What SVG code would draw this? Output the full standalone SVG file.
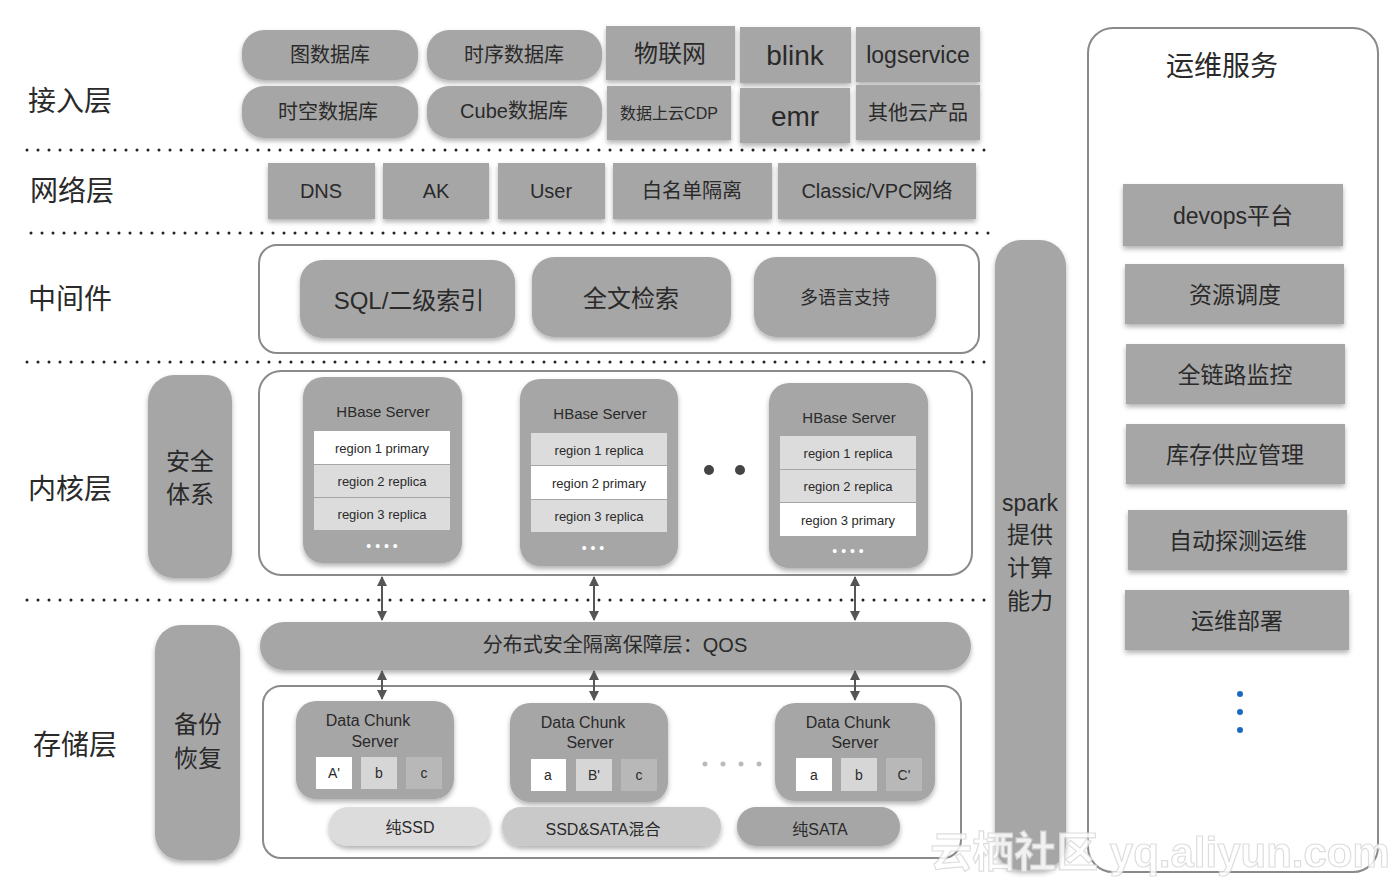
<svg xmlns="http://www.w3.org/2000/svg" width="1400" height="882" viewBox="0 0 1400 882">
<style>
text{font-family:"Liberation Sans","Noto Sans CJK SC",sans-serif;fill:#2a2a2a;text-anchor:middle;dominant-baseline:central}
.g{fill:#a6a6a6}
.sh{filter:url(#ds)}
.lbl{font-size:28px;text-anchor:start}
.dot{stroke:#222;stroke-width:3;stroke-linecap:round;stroke-dasharray:0 11;fill:none}
.frame{fill:#fff;stroke:#8a8a8a;stroke-width:2}
.reg{font-size:13px}
.conn{stroke:#555;stroke-width:2;fill:none;marker-start:url(#ah);marker-end:url(#ah)}
</style>
<defs>
<filter id="ds" x="-20%" y="-20%" width="140%" height="150%">
<feDropShadow dx="0" dy="3" stdDeviation="2.5" flood-color="#000" flood-opacity="0.3"/>
</filter>
<marker id="ah" viewBox="0 0 10 10" refX="9" refY="5" markerWidth="5" markerHeight="5" orient="auto-start-reverse">
<path d="M0,0 L10,5 L0,10 z" fill="#555"/>
</marker>
</defs>
<rect width="1400" height="882" fill="#fff"/>

<g id="layer-labels">
<text class="lbl" x="28" y="101">接入层</text>
<text class="lbl" x="30" y="191">网络层</text>
<text class="lbl" x="28" y="299">中间件</text>
<text class="lbl" x="28" y="489">内核层</text>
<text class="lbl" x="33" y="745">存储层</text>
</g>

<g id="dividers">
<line class="dot" x1="27" y1="150" x2="990" y2="150"/>
<line class="dot" x1="31" y1="233" x2="995" y2="233"/>
<line class="dot" x1="27" y1="362" x2="990" y2="362"/>
<line class="dot" x1="27" y1="600" x2="990" y2="600"/>
</g>

<g id="access-layer">
<g id="n-tushuju"><rect class="g sh" x="242" y="30" width="176" height="50" rx="22"/><text x="330" y="55" font-size="20">图数据库</text></g>
<g id="n-shixu"><rect class="g sh" x="427" y="30" width="175" height="50" rx="22"/><text x="514" y="55" font-size="20">时序数据库</text></g>
<g id="n-wulian"><rect class="g sh" x="606" y="26" width="129" height="54"/><text x="670" y="53" font-size="24">物联网</text></g>
<g id="n-blink"><rect class="g sh" x="740" y="27" width="111" height="56"/><text x="795" y="55" font-size="28">blink</text></g>
<g id="n-logservice"><rect class="g sh" x="856" y="27" width="124" height="55"/><text x="918" y="55" font-size="23">logservice</text></g>
<g id="n-shikong"><rect class="g sh" x="242" y="86" width="176" height="52" rx="22"/><text x="328" y="112" font-size="20">时空数据库</text></g>
<g id="n-cube"><rect class="g sh" x="427" y="86" width="175" height="52" rx="22"/><text x="514" y="111" font-size="20">Cube数据库</text></g>
<g id="n-cdp"><rect class="g sh" x="607" y="86" width="124" height="54"/><text x="669" y="113" font-size="16">数据上云CDP</text></g>
<g id="n-emr"><rect class="g sh" x="740" y="88" width="110" height="55"/><text x="795" y="116" font-size="28">emr</text></g>
<g id="n-other"><rect class="g sh" x="856" y="85" width="124" height="55"/><text x="918" y="113" font-size="20">其他云产品</text></g>
</g>

<g id="network-layer">
<g id="n-dns"><rect class="g sh" x="268" y="163" width="107" height="56"/><text x="321" y="191" font-size="20">DNS</text></g>
<g id="n-ak"><rect class="g sh" x="383" y="163" width="106" height="56"/><text x="436" y="191" font-size="20">AK</text></g>
<g id="n-user"><rect class="g sh" x="498" y="163" width="107" height="56"/><text x="551" y="191" font-size="20">User</text></g>
<g id="n-whitelist"><rect class="g sh" x="613" y="163" width="159" height="56"/><text x="692" y="191" font-size="20">白名单隔离</text></g>
<g id="n-vpc"><rect class="g sh" x="778" y="163" width="198" height="56"/><text x="877" y="191" font-size="20">Classic/VPC网络</text></g>
</g>

<g id="middleware">
<rect class="frame" x="259" y="245" width="720" height="108" rx="18"/>
<g id="n-sql"><rect class="g sh" x="300" y="260" width="215" height="78" rx="22"/><text x="409" y="300" font-size="24">SQL/二级索引</text></g>
<g id="n-fulltext"><rect class="g sh" x="532" y="257" width="199" height="80" rx="22"/><text x="631" y="298" font-size="24">全文检索</text></g>
<g id="n-multilang"><rect class="g sh" x="754" y="257" width="182" height="80" rx="22"/><text x="845" y="298" font-size="18">多语言支持</text></g>
</g>

<g id="n-security"><rect class="g sh" x="148" y="375" width="84" height="203" rx="26"/><text x="190" y="461" font-size="24">安全</text><text x="190" y="494" font-size="24">体系</text></g>

<g id="kernel">
<rect class="frame" x="259" y="371" width="713" height="204" rx="22"/>
<g id="n-hbase1">
<rect class="g sh" x="303" y="377" width="159" height="186" rx="20"/>
<text x="383" y="411" font-size="15">HBase Server</text>
<rect x="314" y="431" width="136" height="33" fill="#fff"/>
<rect x="314" y="465" width="136" height="32" fill="#dcdcdc"/>
<rect x="314" y="498" width="136" height="32" fill="#dcdcdc"/>
<text class="reg" x="382" y="448">region 1 primary</text>
<text class="reg" x="382" y="481">region 2 replica</text>
<text class="reg" x="382" y="514">region 3 replica</text>
<text x="382" y="546" font-size="14" fill="#fff" style="fill:#fff">• • • •</text>
</g>
<g id="n-hbase2">
<rect class="g sh" x="520" y="379" width="158" height="187" rx="20"/>
<text x="600" y="413" font-size="15">HBase Server</text>
<rect x="531" y="433" width="136" height="32" fill="#dcdcdc"/>
<rect x="531" y="466" width="136" height="33" fill="#fff"/>
<rect x="531" y="500" width="136" height="32" fill="#dcdcdc"/>
<text class="reg" x="599" y="450">region 1 replica</text>
<text class="reg" x="599" y="483">region 2 primary</text>
<text class="reg" x="599" y="516">region 3 replica</text>
<text x="593" y="548" font-size="14" style="fill:#fff">• • •</text>
</g>
<g id="n-hbase3">
<rect class="g sh" x="769" y="383" width="159" height="185" rx="20"/>
<text x="849" y="417" font-size="15">HBase Server</text>
<rect x="780" y="436" width="136" height="33" fill="#dcdcdc"/>
<rect x="780" y="470" width="136" height="32" fill="#dcdcdc"/>
<rect x="780" y="503" width="136" height="33" fill="#fff"/>
<text class="reg" x="848" y="453">region 1 replica</text>
<text class="reg" x="848" y="486">region 2 replica</text>
<text class="reg" x="848" y="520">region 3 primary</text>
<text x="848" y="551" font-size="14" style="fill:#fff">• • • •</text>
</g>
<circle cx="709" cy="470" r="5" fill="#444"/>
<circle cx="740" cy="470" r="5" fill="#444"/>
</g>

<g id="n-qos"><rect class="g sh" x="260" y="622" width="711" height="48" rx="24"/><text x="615" y="645" font-size="20">分布式安全隔离保障层：QOS</text></g>

<g id="n-backup"><rect class="g sh" x="155" y="625" width="85" height="235" rx="26"/><text x="198" y="724" font-size="24">备份</text><text x="198" y="758" font-size="24">恢复</text></g>

<g id="storage">
<rect class="frame" x="263" y="686" width="698" height="172" rx="18"/>
<g id="n-dcs1">
<rect class="g sh" x="296" y="701" width="158" height="98" rx="20"/>
<text x="368" y="720" font-size="16">Data Chunk</text>
<text x="375" y="741" font-size="16">Server</text>
<rect x="316" y="757" width="36" height="32" fill="#fff"/><text x="334" y="773" font-size="14">A'</text>
<rect x="361" y="757" width="36" height="32" fill="#d6d6d6"/><text x="379" y="773" font-size="14">b</text>
<rect x="406" y="757" width="36" height="32" fill="#b8b8b8"/><text x="424" y="773" font-size="14">c</text>
</g>
<g id="n-dcs2">
<rect class="g sh" x="510" y="703" width="158" height="99" rx="20"/>
<text x="583" y="722" font-size="16">Data Chunk</text>
<text x="590" y="742" font-size="16">Server</text>
<rect x="531" y="759" width="35" height="32" fill="#fff"/><text x="548" y="775" font-size="14">a</text>
<rect x="576" y="759" width="36" height="32" fill="#d6d6d6"/><text x="594" y="775" font-size="14">B'</text>
<rect x="621" y="759" width="36" height="32" fill="#b8b8b8"/><text x="639" y="775" font-size="14">c</text>
</g>
<g id="n-dcs3">
<rect class="g sh" x="775" y="703" width="160" height="98" rx="20"/>
<text x="848" y="722" font-size="16">Data Chunk</text>
<text x="855" y="742" font-size="16">Server</text>
<rect x="796" y="758" width="36" height="33" fill="#fff"/><text x="814" y="775" font-size="14">a</text>
<rect x="841" y="758" width="36" height="33" fill="#d6d6d6"/><text x="859" y="775" font-size="14">b</text>
<rect x="886" y="758" width="36" height="33" fill="#b8b8b8"/><text x="904" y="775" font-size="14">C'</text>
</g>
<circle cx="705" cy="764" r="2.5" fill="#bbb"/><circle cx="723" cy="764" r="2.5" fill="#bbb"/><circle cx="741" cy="764" r="2.5" fill="#bbb"/><circle cx="759" cy="764" r="2.5" fill="#bbb"/>
<g id="n-ssd"><rect class="sh" x="329" y="807" width="161" height="39" rx="19" fill="#dcdcdc"/><text x="410" y="827" font-size="16">纯SSD</text></g>
<g id="n-mix"><rect class="sh" x="502" y="807" width="219" height="39" rx="19" fill="#c9c9c9"/><text x="603" y="829" font-size="16">SSD&amp;SATA混合</text></g>
<g id="n-sata"><rect class="sh" x="737" y="807" width="163" height="39" rx="19" fill="#a6a6a6"/><text x="820" y="829" font-size="16">纯SATA</text></g>
</g>

<g id="connectors">
<line class="conn" x1="382" y1="577" x2="382" y2="620"/>
<line class="conn" x1="594" y1="577" x2="594" y2="620"/>
<line class="conn" x1="855" y1="577" x2="855" y2="620"/>
<line class="conn" x1="382" y1="671" x2="382" y2="699"/>
<line class="conn" x1="594" y1="671" x2="594" y2="700"/>
<line class="conn" x1="855" y1="671" x2="855" y2="700"/>
</g>

<g id="n-spark"><rect class="g sh" x="995" y="240" width="71" height="630" rx="26"/>
<text x="1030" y="503" font-size="23">spark</text>
<text x="1030" y="535" font-size="23">提供</text>
<text x="1030" y="568" font-size="23">计算</text>
<text x="1030" y="601" font-size="23">能力</text>
</g>

<g id="ops">
<rect class="frame" x="1088" y="28" width="290" height="844" rx="25"/>
<text x="1222" y="66" font-size="28">运维服务</text>
<g id="n-devops"><rect class="g sh" x="1123" y="184" width="220" height="62"/><text x="1233" y="216" font-size="23">devops平台</text></g>
<g id="n-sched"><rect class="g sh" x="1125" y="264" width="219" height="60"/><text x="1235" y="295" font-size="23">资源调度</text></g>
<g id="n-monitor"><rect class="g sh" x="1126" y="344" width="219" height="60"/><text x="1235" y="375" font-size="23">全链路监控</text></g>
<g id="n-supply"><rect class="g sh" x="1126" y="424" width="219" height="60"/><text x="1235" y="455" font-size="23">库存供应管理</text></g>
<g id="n-autodetect"><rect class="g sh" x="1128" y="510" width="219" height="60"/><text x="1238" y="541" font-size="23">自动探测运维</text></g>
<g id="n-deploy"><rect class="g sh" x="1125" y="590" width="224" height="60"/><text x="1237" y="621" font-size="23">运维部署</text></g>
<circle cx="1240" cy="694" r="3" fill="#1a6bbf"/>
<circle cx="1240" cy="712" r="3" fill="#1a6bbf"/>
<circle cx="1240" cy="730" r="3" fill="#1a6bbf"/>
</g>

<text x="1160" y="852" font-size="42" font-weight="bold" style="fill:#fff;stroke:#d8d8d8;stroke-width:1.2;opacity:0.85">云栖社区 yq.aliyun.com</text>
</svg>
